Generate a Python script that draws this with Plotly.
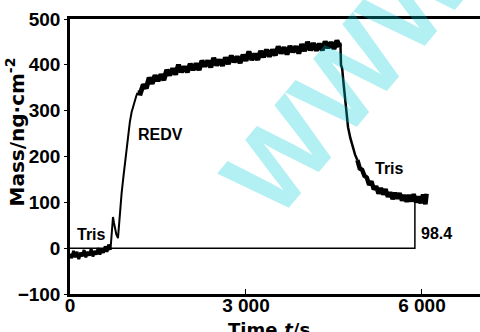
import plotly.graph_objects as go

# ---- data ----
base_t = [0, 30, 60, 90, 120, 150, 180, 210, 240, 270, 300, 330, 360, 390, 420, 450, 480, 510, 540, 570, 600, 630, 660, 690]
base_y = [-12, -22, -6, -20, -8, -24, -10, -18, -4, -20, -8, -16, -2, -18, -6, -14, 0, -14, -2, -10, 4, -8, 8, -4]

rise_t = [690, 700, 715, 733, 750, 770, 790, 818, 835, 852, 880, 910, 937, 965, 994, 1020, 1051, 1080, 1108, 1130, 1150]
rise_y = [-4, 10, 40, 68, 55, 40, 30, 22, 50, 88, 120, 155, 184, 220, 250, 275, 297, 312, 322, 332, 339]

plateau_t = [1150, 1200, 1250, 1300, 1350, 1400, 1450, 1500, 1550, 1600, 1650, 1700, 1750, 1800,
             1850, 1900, 1950, 2000, 2050, 2100, 2150, 2200, 2250, 2300, 2350, 2400, 2450, 2500,
             2550, 2600, 2650, 2700, 2750, 2800, 2850, 2900, 2950, 3000, 3050, 3100, 3150, 3200,
             3250, 3300, 3350, 3400, 3450, 3500, 3550, 3600, 3650, 3700, 3750, 3800, 3850, 3900,
             3950, 4000, 4050, 4100, 4150, 4200, 4250, 4300, 4350, 4400, 4450, 4500, 4550, 4600]
plateau_y = [339, 338, 357, 349, 372, 359, 377, 365, 379, 367, 389, 377, 392, 379,
             400, 384, 396, 384, 402, 389, 403, 389, 409, 397, 409, 395, 415, 399,
             411, 398, 416, 402, 420, 406, 418, 404, 422, 409, 429, 411, 424, 411,
             430, 417, 433, 418, 433, 421, 440, 425, 438, 423, 441, 428, 440, 425,
             445, 430, 450, 432, 447, 431, 446, 432, 451, 437, 449, 435, 453, 439]

drop_t = [4600, 4610, 4620, 4640, 4665, 4690, 4715, 4740, 4780, 4825, 4860, 4900]
drop_y = [439, 448, 400, 392, 358, 323, 290, 264, 240, 219, 204, 192]

tail_t = [4900, 4940, 4980, 5020, 5060, 5100, 5140, 5180, 5220, 5260, 5300, 5340, 5380, 5420,
          5460, 5500, 5540, 5580, 5620, 5660, 5700, 5740, 5780, 5820, 5860, 5900, 5940, 5980,
          6020, 6060, 6080]
tail_y = [192, 174, 171, 158, 154, 138, 146, 128, 135, 119, 131, 117, 129, 112,
          122, 107, 121, 108, 120, 104, 116, 101, 116, 102, 118, 100, 113, 98,
          117, 96, 119]

bracket_t = [0, 5880, 5880]
bracket_y = [0, 0, 98.4]

labels = ["Tris", "REDV", "Tris", "98.4"]
label_t = [358, 1543, 5455, 6240]
label_y = [29, 248, 173, 32]

x_ticks = [0, 3000, 6000]
x_ticktext = ["0", "3 000", "6 000"]
y_ticks = [-100, 0, 100, 200, 300, 400, 500]

FONT = "Liberation Sans"

fig = go.Figure()
fig.add_trace(go.Scatter(x=bracket_t, y=bracket_y, mode="lines",
                         line=dict(color="black", width=1.5), showlegend=False))
for t, y, w in [(base_t, base_y, 3), (rise_t, rise_y, 2), (plateau_t, plateau_y, 5),
                (drop_t, drop_y, 2.5), (tail_t, tail_y, 4.5)]:
    fig.add_trace(go.Scatter(x=t, y=y, mode="lines",
                             line=dict(color="black", width=w), showlegend=False))

for txt, t, y in zip(labels, label_t, label_y):
    fig.add_annotation(x=t, y=y, text=txt, showarrow=False, xanchor="center", yanchor="middle",
                       font=dict(family=FONT, size=16, color="black", weight="bold"))

# axis titles (placed as text)
fig.add_annotation(xref="paper", yref="paper", x=-0.133, y=0.589, text="Mass/ng·cm<sup>-2</sup>",
                   showarrow=False, textangle=-90, xanchor="center", yanchor="middle",
                   font=dict(family="DejaVu Sans", size=20, color="black", weight="bold"))
fig.add_annotation(xref="paper", yref="paper", x=0.485, y=-0.084, text="Time,<i>t</i>/s",
                   showarrow=False, xanchor="center", yanchor="top",
                   font=dict(family="DejaVu Sans", size=18, color="black", weight="bold"))

# watermark
fig.add_annotation(xref="paper", yref="paper", x=0.68, y=0.79, text="WWW", showarrow=False,
                   textangle=-50, xanchor="center", yanchor="middle",
                   font=dict(family=FONT, size=112, color="rgba(0,205,215,0.3)", weight="bold"))

fig.update_layout(
    width=480, height=332,
    margin=dict(l=70, r=0, t=19, b=38, autoexpand=False),
    plot_bgcolor="white", paper_bgcolor="white",
    font=dict(family=FONT, size=18, color="black", weight="bold"),
)
fig.update_xaxes(range=[0, 6990], tickvals=x_ticks, ticktext=x_ticktext, automargin=False,
                 ticks="inside", ticklen=5, tickwidth=1, tickcolor="black",
                 showline=True, linewidth=2.5, linecolor="black", mirror=True,
                 showgrid=False, zeroline=False, ticklabelstandoff=-8,
                 tickfont=dict(family=FONT, size=19, weight="bold"))
fig.update_yaxes(range=[-100, 500], tickvals=y_ticks, automargin=False,
                 ticks="outside", ticklen=3, tickwidth=1, tickcolor="black",
                 showline=True, linewidth=2.5, linecolor="black",
                 showgrid=False, zeroline=False,
                 tickfont=dict(family=FONT, size=19, weight="bold"))

fig.write_html("out.html", config={"displayModeBar": False},
               post_script="document.body.style.margin='0';")
